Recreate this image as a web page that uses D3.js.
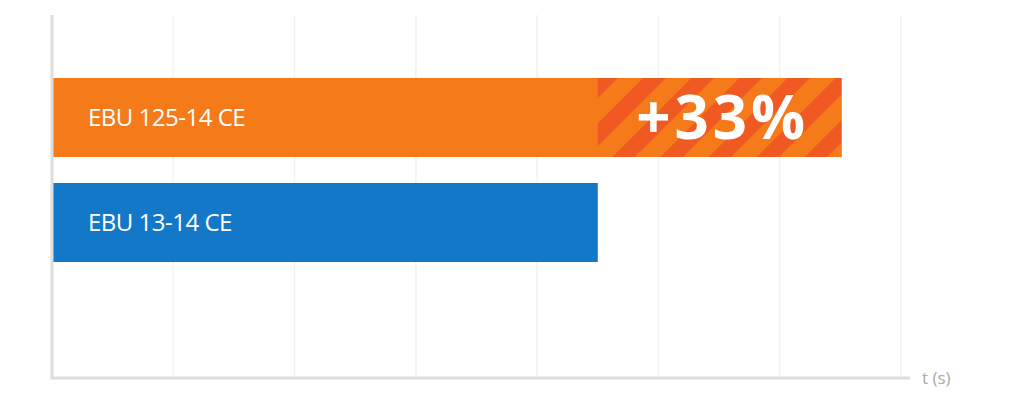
<!DOCTYPE html>
<html>
<head>
<meta charset="utf-8">
<script src="https://cdn.jsdelivr.net/npm/d3@7"></script>
<style>
  body { margin: 0; background: #fff; }
  svg { display: block; }
</style>
</head>
<body>
<svg id="chart" width="1024" height="409"></svg>
<script>
// datos del grafico
const categorias = ['EBU 125-14 CE', 'EBU 13-14 CE'];
const valores = [6.51, 4.5];
const colores = ['#f47a1a', '#1478c8'];
const ticks = [1, 2, 3, 4, 5, 6, 7];
const etiquetaEje = 't (s)';
const diferencia = '+33%';

const svg = d3.select('#chart');
const margin = { top: 15, right: 123, bottom: 31, left: 52 };
const width = 1024, height = 409;

const x = d3.scaleLinear().domain([0, 7]).range([margin.left, width - margin.right]);
const y = d3.scaleBand().domain(categorias).range([78, 262]).paddingInner(0.2476).paddingOuter(0);

// patron de rayas
const defs = svg.append('defs');
const pat = defs.append('pattern')
  .attr('id', 'rayas')
  .attr('patternUnits', 'userSpaceOnUse')
  .attr('width', 34).attr('height', 34)
  .attr('patternTransform', 'rotate(45)');
pat.append('rect').attr('width', 34).attr('height', 34).attr('fill', colores[0]);
pat.append('rect').attr('width', 16).attr('height', 34).attr('fill', '#f05a22');

// lineas de la cuadricula
svg.append('g')
  .selectAll('line')
  .data(ticks)
  .join('line')
  .attr('x1', d => x(d)).attr('x2', d => x(d))
  .attr('y1', margin.top).attr('y2', height - margin.bottom)
  .attr('stroke', '#f2f2f2')
  .attr('stroke-width', 1.5);

// barras
svg.append('g')
  .selectAll('rect')
  .data(categorias)
  .join('rect')
  .attr('x', x(0))
  .attr('y', d => y(d))
  .attr('width', (d, i) => x(valores[i]) - x(0))
  .attr('height', y.bandwidth())
  .attr('fill', (d, i) => colores[i]);

// zona rayada: diferencia entre las dos barras
svg.append('rect')
  .attr('x', x(valores[1]))
  .attr('y', y(categorias[0]))
  .attr('width', x(valores[0]) - x(valores[1]))
  .attr('height', y.bandwidth())
  .attr('fill', 'url(#rayas)');

// etiquetas de las barras
svg.append('g')
  .selectAll('text')
  .data(categorias)
  .join('text')
  .attr('x', x(0) + 36)
  .attr('y', d => y(d) + y.bandwidth() / 2)
  .attr('dy', '0.36em')
  .attr('fill', '#fff')
  .attr('font-family', 'Open Sans, sans-serif')
  .attr('font-size', 24)
  .attr('letter-spacing', -0.5)
  .text(d => d);

svg.append('text')
  .attr('x', (x(valores[0]) + x(valores[1])) / 2 + 3)
  .attr('y', y(categorias[0]) + y.bandwidth() / 2)
  .attr('dy', '0.36em')
  .attr('text-anchor', 'middle')
  .attr('fill', '#fff')
  .attr('font-family', 'Open Sans, sans-serif')
  .attr('font-weight', 'bold')
  .attr('font-size', 60)
  .attr('letter-spacing', 4)
  .text(diferencia);

// ejes
svg.append('line')
  .attr('x1', x(0)).attr('x2', x(0))
  .attr('y1', margin.top).attr('y2', height - margin.bottom)
  .attr('stroke', '#dedede').attr('stroke-width', 3);
svg.append('line')
  .attr('x1', x(0) - 1.5).attr('x2', x(7) + 9)
  .attr('y1', height - margin.bottom).attr('y2', height - margin.bottom)
  .attr('stroke', '#dedede').attr('stroke-width', 3);

svg.append('text')
  .attr('x', x(7) + 21)
  .attr('y', height - margin.bottom)
  .attr('dy', '0.36em')
  .attr('fill', '#aaa')
  .attr('font-family', 'Open Sans, sans-serif')
  .attr('font-size', 17)
  .text(etiquetaEje);
</script>
</body>
</html>
